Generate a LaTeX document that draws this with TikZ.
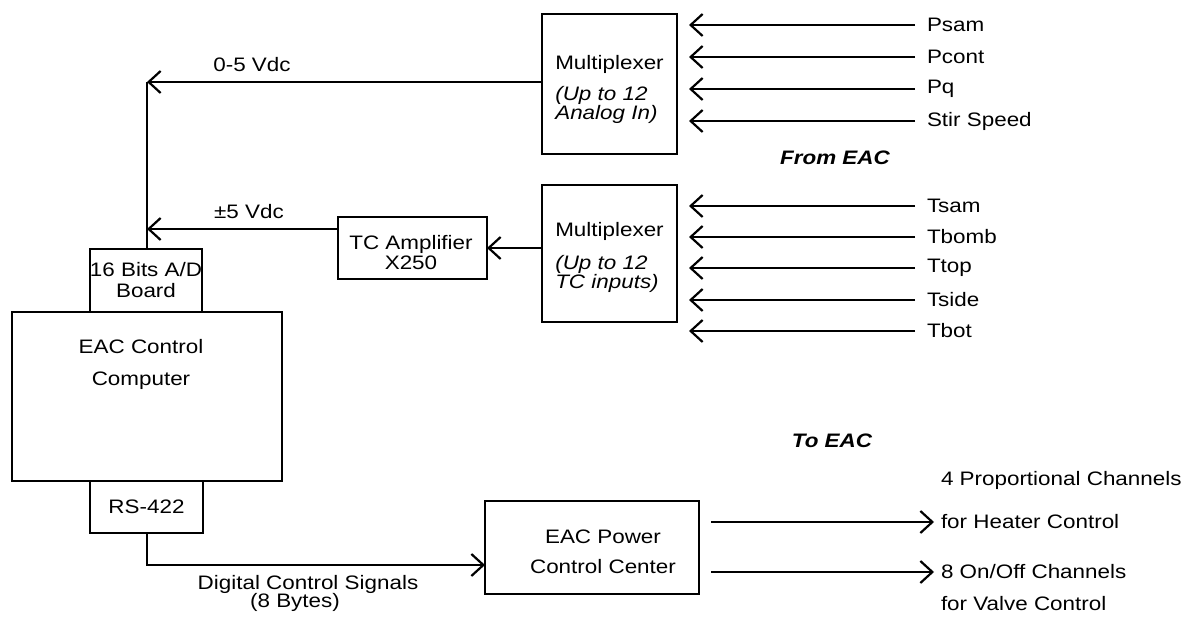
\documentclass[tikz,border=0pt]{standalone}
\usepackage{fontspec}
\setmainfont{Liberation Sans}[FakeStretch=1.15]
\usetikzlibrary{arrows.meta}
\begin{document}
\begin{tikzpicture}[x=1pt,y=-1pt,
  every node/.style={font=\fontsize{19.5}{21}\selectfont},
  box/.style={draw, line width=2.2pt, inner sep=0pt, outer sep=0pt},
  lbl/.style={inner sep=0pt, outer sep=0pt},
  wire/.style={line width=2.4pt},
  arr/.style={line width=2.4pt, -{Straight Barb[length=12pt,width=22pt,line width=2.2pt]}},
  inlbl/.style={anchor=west, inner xsep=12pt, inner ysep=0pt, outer sep=0pt},
  outlbl/.style={anchor=west, inner xsep=7pt, inner ysep=0pt, outer sep=0pt},
  note/.style={inner sep=0pt, font=\fontsize{19.5}{21}\selectfont\bfseries\itshape}]
\useasboundingbox (0,0) rectangle (1192,623);

% boxes
\node[box, minimum width=135pt, minimum height=140pt] (mux1) at (609.5,84) {};
\node[lbl, align=left] (mux1t) at (609.5,89)
  {Multiplexer\\[10pt]\textit{(Up to 12}\\[-2pt]\textit{Analog In)}};
\node[box, minimum width=135pt, minimum height=137pt] (mux2) at (609.5,253.5) {};
\node[lbl, align=left] (mux2t) at (609.5,257)
  {Multiplexer\\[12pt]\textit{(Up to 12}\\[-2pt]\textit{TC inputs)}};
\node[box, minimum width=149pt, minimum height=62pt] (tcamp) at (412.5,248) {};
\node[lbl, align=center] (tcampt) at (411,253) {TC Amplifier\\[-1pt]X250};
\node[box, minimum width=112pt, minimum height=63pt, align=center] (adb) at (146,280.5)
  {16 Bits A/D\\Board};
\node[box, minimum width=270pt, minimum height=169pt] (eac) at (147,396.5) {};
\node[lbl, align=center] (eact) at (141,364) {EAC Control\\[11pt]Computer};
\node[box, minimum width=113pt, minimum height=52pt] (rs) at (146.5,507) {RS-422};
\node[box, minimum width=214pt, minimum height=93pt] (pcc) at (592,547.5) {};
\node[lbl, align=center] (pcct) at (603,552) {EAC Power\\[9pt]Control Center};

% coordinates for bends
\coordinate (c1) at (147,82);
\coordinate (c2) at (147,229);
\coordinate (c3) at (147,565);

% connectors to A/D board
\draw[wire] (adb.north -| c1) -- (c1);
\draw[arr] (mux1.west |- c1) -- (c1);
\draw[arr] (tcamp.west |- c2) -- (c2);
\draw[arr] (mux2.west |- tcamp.east) -- (tcamp.east);
\draw[arr] (rs.south -| c3) -- (c3) -- (c3 -| pcc.west);

% labels on connectors
\node[lbl] (v05) at (252,65) {0-5 Vdc};
\node[lbl] (v5) at (249,212) {±5 Vdc};
\node[lbl] (dcs) at (308,584) {Digital Control Signals};
\node[lbl] (byt) at (295,602) {(8 Bytes)};

% analog inputs
\node[inlbl] (psam) at (915,25) {Psam};
\node[inlbl] (pcont) at (915,57) {Pcont};
\node[inlbl] (pq) at (915,89) {Pq};
\node[inlbl] (stir) at (915,121) {Stir Speed};
\foreach \n in {psam,pcont,pq,stir}
  \draw[arr, shorten >=12pt] (\n.west) -- (\n.west -| mux1.east);

% TC inputs
\node[inlbl] (tsam) at (915,206) {Tsam};
\node[inlbl] (tbomb) at (915,237) {Tbomb};
\node[inlbl] (ttop) at (915,268) {Ttop};
\node[inlbl] (tside) at (915,300) {Tside};
\node[inlbl] (tbot) at (915,331) {Tbot};
\foreach \n in {tsam,tbomb,ttop,tside,tbot}
  \draw[arr, shorten >=12pt] (\n.west) -- (\n.west -| mux2.east);

\node[note] (from) at (835,158) {From EAC};
\node[note] (to) at (832,441) {To EAC};

% outputs
\node[lbl, anchor=west] (prop) at (941,480) {4 Proportional Channels};
\node[outlbl] (heat) at (934,522) {for Heater Control};
\node[outlbl] (onoff) at (934,572) {8 On/Off Channels};
\node[lbl, anchor=west] (valve) at (941,604) {for Valve Control};
\draw[arr, shorten <=12pt] (pcc.east |- heat.west) -- (heat.west);
\draw[arr, shorten <=12pt] (pcc.east |- onoff.west) -- (onoff.west);
\end{tikzpicture}
\end{document}
